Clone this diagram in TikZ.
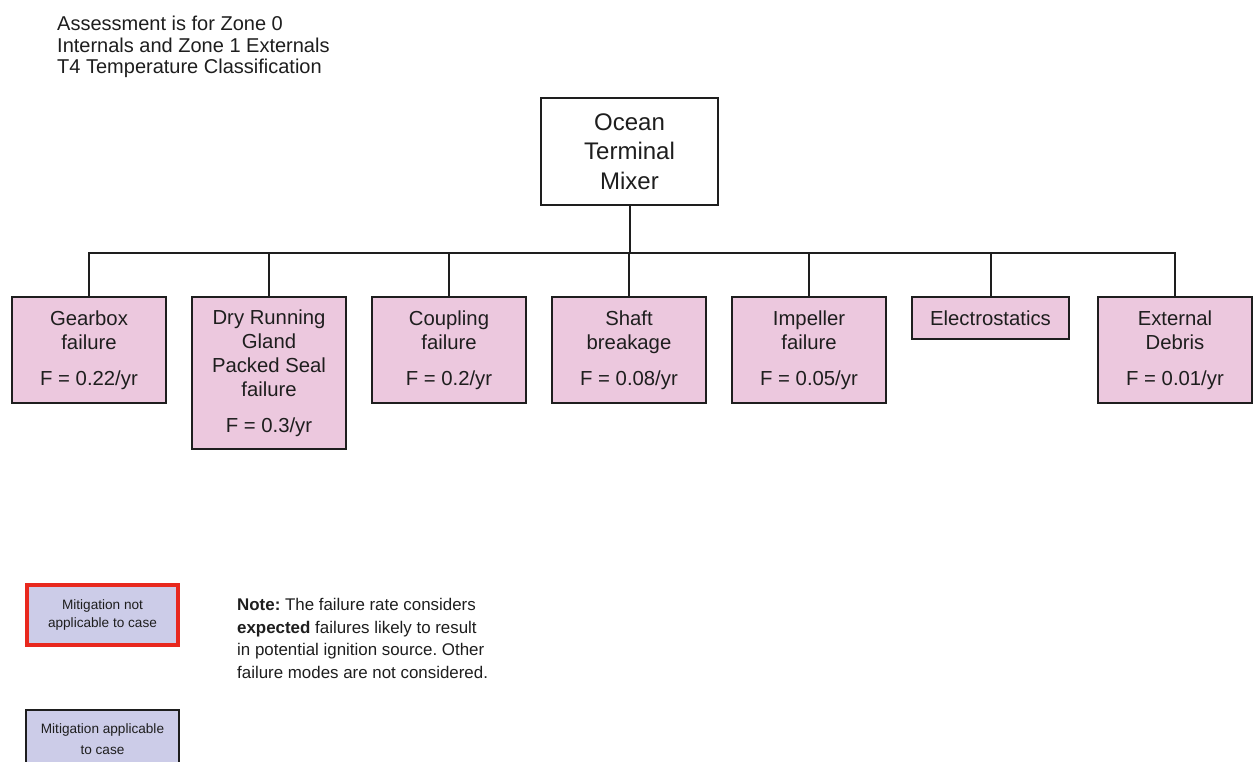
\documentclass[tikz,border=0pt]{standalone}
\usepackage{fontspec}
\setmainfont{Liberation Sans}
\frenchspacing
\definecolor{pinkfill}{RGB}{236,200,222}
\definecolor{lavfill}{RGB}{204,204,232}
\definecolor{legred}{RGB}{232,40,30}
\definecolor{ink}{RGB}{30,30,30}
\tikzset{
  rootbox/.style={draw=ink, line width=2pt, fill=white, align=center, text=ink,
    minimum width=177pt, minimum height=107pt, inner sep=0pt,
    font=\fontsize{24}{29.5}\selectfont},
  failbox/.style={draw=ink, line width=2pt, fill=pinkfill, align=center, text=ink,
    minimum width=154pt, inner sep=0pt, font=\fontsize{20.3}{24}\selectfont},
  conn/.style={draw=ink, line width=2pt},
  legbox/.style={fill=lavfill, align=center, text=ink, inner sep=0pt,
    minimum width=153pt},
  plaintext/.style={align=left, text=ink, inner sep=0pt, anchor=west}
}
\begin{document}
\begin{tikzpicture}[x=1pt,y=-1pt]
\useasboundingbox (0,0) rectangle (1255,762);
\clip (0,0) rectangle (1255,762);
\fill[white] (0,0) rectangle (1255,762);

\node[plaintext, font=\fontsize{20}{21.7}\selectfont] (hdr) at (57,47)
  {Assessment is for Zone 0\\Internals and Zone 1 Externals\\T4 Temperature Classification};

\node[rootbox] (root) at (629.5,151.5) {Ocean\\Terminal\\Mixer};

\node[failbox, minimum height=106pt] (gear) at (89,350) {Gearbox\\failure\\[12pt]F = 0.22/yr};
\node[failbox, minimum height=152pt] (dry) at (269,373) {Dry Running\\Gland\\Packed Seal\\failure\\[12pt]F = 0.3/yr};
\node[failbox, minimum height=106pt] (coup) at (449,350) {Coupling\\failure\\[12pt]F = 0.2/yr};
\node[failbox, minimum height=106pt] (shaft) at (629,350) {Shaft\\breakage\\[12pt]F = 0.08/yr};
\node[failbox, minimum height=106pt] (imp) at (809,350) {Impeller\\failure\\[12pt]F = 0.05/yr};
\node[failbox, minimum height=42pt, minimum width=157pt] (elec) at (990.5,318) {Electrostatics};
\node[failbox, minimum height=106pt] (ext) at (1175,350) {External\\Debris\\[12pt]F = 0.01/yr};

\foreach \c in {gear,dry,coup,shaft,imp,elec,ext}
  \draw[conn] (root.south) -- ++(0,47) -| (\c.north);

\node[legbox, draw=legred, line width=4pt, minimum width=151pt, minimum height=60pt,
  font=\fontsize{13.6}{18}\selectfont] (leg1) at (102.5,615) {Mitigation not\\applicable to case};
\node[legbox, draw=ink, line width=2pt, minimum height=60pt,
  font=\fontsize{13.6}{21}\selectfont] (leg2) at (102.5,739.5) {Mitigation applicable\\to case};

\node[plaintext, font=\fontsize{16.9}{22.4}\selectfont] (note) at (237,638.5)
  {\textbf{Note:} The failure rate considers\\\textbf{expected} failures likely to result\\in potential ignition source. Other\\failure modes are not considered.};
\end{tikzpicture}
\end{document}
